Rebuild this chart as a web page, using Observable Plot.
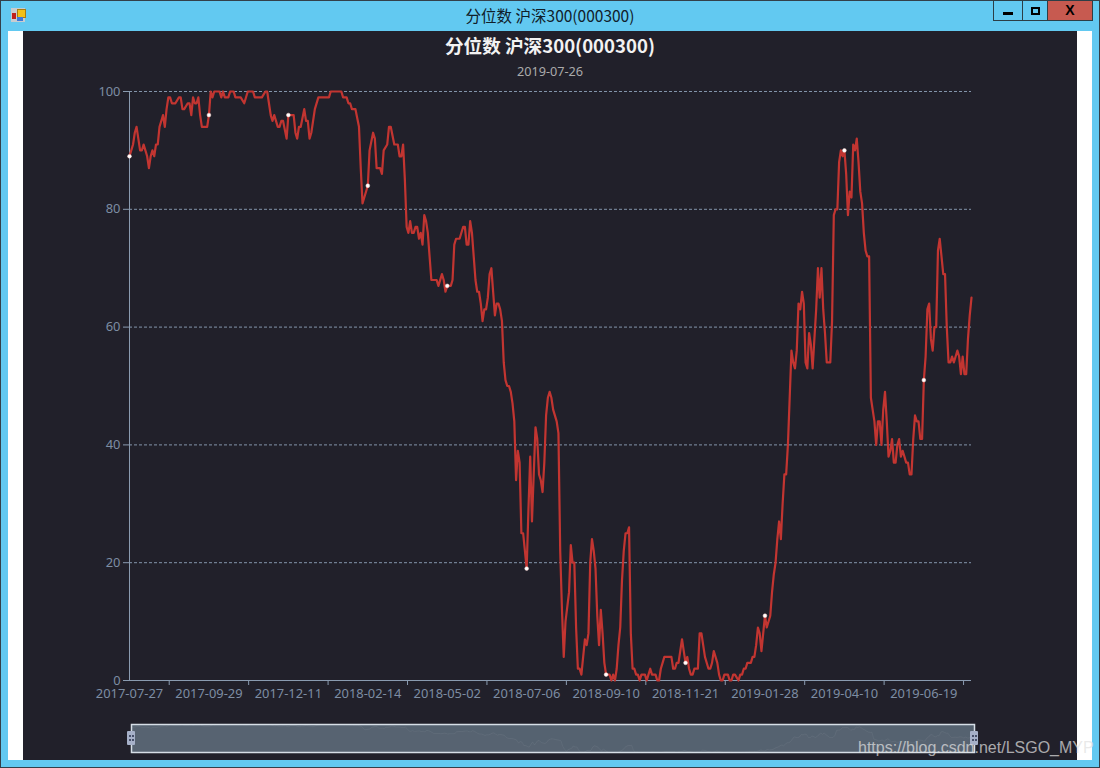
<!DOCTYPE html>
<html>
<head>
<meta charset="utf-8">
<script src="https://cdn.jsdelivr.net/npm/d3@7"></script>
<script src="https://cdn.jsdelivr.net/npm/@observablehq/plot@0.6"></script>
<style>
html,body{margin:0;padding:0;width:1100px;height:768px;overflow:hidden;background:#62c9f1;}
#win{position:absolute;left:0;top:0;width:1100px;height:768px;background:#62c9f1;box-sizing:border-box;border:1px solid #33404a;}
.abs{position:absolute;}
#wtitle{position:absolute;left:0;top:5px;width:1100px;text-align:center;font:15.5px "Noto Sans CJK SC";color:#10202a;line-height:20px;}
#white{position:absolute;left:8px;top:31px;width:1084px;height:729px;background:#fff;}
#panel{position:absolute;left:23px;top:31px;width:1054px;height:729px;background:#21202a;}
#title{position:absolute;left:23px;top:32px;width:1054px;text-align:center;font:bold 18.6px/26px "Noto Sans CJK SC";color:#f2f2f2;}
#sub{position:absolute;left:23px;top:62px;width:1054px;text-align:center;font:12.7px/18px "Noto Sans";color:#aaa;}
#chart{position:absolute;left:23px;top:31px;}
#zoom{position:absolute;left:120px;top:715px;}
.btn{position:absolute;top:0;height:21px;box-sizing:border-box;border:1px solid #2c3e46;background:#62c9f1;}
.handle{position:absolute;width:8px;height:14px;top:731px;background:#a6b0c8;border-radius:1px;}
.handle i{position:absolute;width:2px;height:2px;background:#47506a;}
#mark{position:absolute;left:858px;top:737px;font:16px/22px "Liberation Sans";color:rgba(225,225,225,.72);white-space:nowrap;}
</style>
</head>
<body>
<div id="win"></div>
<div class="abs" style="left:11px;top:8px;width:14px;height:14px;background:#c8ccd0;"></div>
<div class="abs" style="left:17px;top:9px;width:7px;height:7px;background:#f2c018;border:1px solid #a87a10;box-sizing:content-box;"></div>
<div class="abs" style="left:12px;top:13px;width:4px;height:6px;background:#c0201c;"></div>
<div class="abs" style="left:17px;top:17px;width:6px;height:4px;background:#3f78d8;"></div>
<div id="wtitle">分位数 沪深300(000300)</div>
<div class="btn" style="left:993px;width:30px;"><div class="abs" style="left:9px;top:11px;width:10px;height:3px;background:#000;"></div></div>
<div class="btn" style="left:1022px;width:26px;"><div class="abs" style="left:8px;top:6px;width:9px;height:8px;border:2px solid #000;box-sizing:border-box;"></div></div>
<div class="btn" style="left:1047px;width:46px;background:#c75a50;"><div class="abs" style="left:0;top:1px;width:44px;text-align:center;font:bold 14px/16px 'Liberation Sans';color:#000;">X</div></div>
<div id="white"></div>
<div id="panel"></div>
<div id="title"></div>
<div id="sub"></div>
<div id="chart"></div>
<div id="zoom"></div>
<div class="handle" style="left:127px;"><i style="left:2px;top:4px"></i><i style="left:5px;top:4px"></i><i style="left:2px;top:8px"></i><i style="left:5px;top:8px"></i></div>
<div class="handle" style="left:970px;"><i style="left:2px;top:4px"></i><i style="left:5px;top:4px"></i><i style="left:2px;top:8px"></i><i style="left:5px;top:8px"></i></div>
<div id="mark">https://blog.csdn.net/LSGO_MYP</div>
<script>
const chartTitle = "分位数 沪深300(000300)";
const chartDate = "2019-07-26";
const tickLabels = ["2017-07-27","2017-09-29","2017-12-11","2018-02-14","2018-05-02","2018-07-06","2018-09-10","2018-11-21","2019-01-28","2019-04-10","2019-06-19"];
const labelStep = 45;
const lastDay = 477;
const yTicks = [0,20,40,60,80,100];
// [trading-day number, quantile]
const readings2017 = [[0,89],[1,90],[2,91],[3,93],[4,94],[5,92],[6,90],[7,90],[8,91],[9,90],[10,89],[11,87],[12,89],[13,90],[14,89],[15,91],[16,91],[17,94],[18,95],[19,96],[20,94],[21,97],[22,99],[23,99],[24,98],[26,98],[28,99],[29,99],[30,97],[31,97],[33,98],[34,98],[35,96],[36,99],[37,98],[38,98],[39,99],[40,96],[41,94],[44,94],[45,96],[46,100],[47,99],[48,100],[51,100],[52,99],[53,100],[54,99],[56,99],[57,100],[59,100],[60,99],[63,99],[65,98],[67,100],[70,100],[71,99],[75,99],[77,100],[78,100],[79,98],[80,96],[81,95],[82,96],[84,94],[85,94],[86,95],[87,95],[89,92],[90,96],[93,96],[94,93],[95,92],[96,94],[97,94],[99,97],[100,95],[101,95],[102,92],[103,93],[105,97],[107,99],[113,99],[114,100],[120,100],[121,99],[123,99],[124,98],[125,98],[126,97],[128,97],[130,94],[131,87],[132,81],[133,82],[135,84],[136,90],[138,93],[139,92],[140,87],[142,87],[143,86],[144,90],[146,91],[147,94],[148,94],[150,91],[152,91],[153,89],[154,89],[155,91],[156,85],[157,77],[158,76],[159,78],[160,76],[161,76],[162,77],[163,77],[164,75],[165,76],[166,74],[167,79],[168,78],[169,76],[170,72],[171,68],[174,68],[175,67],[177,69],[178,68],[179,66],[180,67]];
const readings2018a = [[182,67],[183,68],[184,74],[185,75],[187,75],[189,77],[190,77],[191,74],[192,74],[193,78],[194,76],[195,72],[196,68],[197,66],[198,66],[199,64],[200,61],[201,63],[202,63],[203,65],[204,69],[205,70],[206,66],[207,62],[208,64],[209,64],[210,63],[211,61],[212,54],[213,51],[214,50],[215,50],[216,49],[217,47],[218,44],[219,34],[220,39],[221,37],[222,25],[223,25],[224,22],[225,19],[226,29],[227,38],[228,27],[230,43],[231,41],[232,35],[233,34],[234,32],[235,37],[236,45],[237,48],[238,49],[239,48],[240,46],[242,44],[243,42],[244,22],[245,12],[246,4],[247,10],[249,15],[250,23],[251,20],[252,20],[253,9],[254,2],[255,2],[256,1],[257,4],[258,7],[259,6],[260,8],[261,20],[262,24],[263,22],[264,19],[265,11],[266,6],[267,12],[268,8],[269,3],[270,1],[272,1],[273,0],[274,1],[275,0],[276,2],[277,6],[278,9],[279,17],[280,22],[281,25],[282,25],[283,26],[284,8],[285,2],[286,2],[287,1],[288,1],[289,0],[290,1],[292,1],[293,0],[294,1],[295,2],[296,1],[298,1],[299,0],[300,0],[301,2],[302,3],[303,4],[307,4],[308,2],[309,2],[310,3],[311,3],[312,5],[313,7],[314,5],[315,3],[316,4],[317,2],[318,1],[319,1],[320,2],[322,2],[323,8],[324,8],[325,6],[326,4],[328,2],[329,2],[330,3],[331,5],[333,3],[334,1],[335,0],[336,0],[337,1],[339,1],[340,0],[341,0],[342,1],[343,1],[345,0],[346,1],[347,1],[348,2],[349,2],[350,3],[352,3],[353,4],[354,4],[355,6],[356,9],[357,8],[358,5],[359,8],[360,11]];
const readings2019 = [[361,9],[363,11],[364,15],[365,18],[366,20],[367,24],[368,27],[369,24],[370,30],[371,35],[372,35],[373,40],[374,48],[375,56],[376,54],[377,53],[378,56],[379,64],[380,63],[381,66],[382,64],[383,54],[384,53],[385,59],[386,57],[387,53],[388,58],[389,63],[390,70],[391,65],[392,70],[393,63],[394,59],[395,54],[397,54],[398,61],[399,79],[400,80],[401,80],[402,88],[403,90],[404,89],[405,90],[406,86],[407,79],[408,83],[409,82],[410,91],[411,90],[412,92],[413,88],[414,83],[415,81],[416,76],[417,73],[418,72],[419,72],[420,48],[421,46],[422,44],[423,40],[424,44],[425,44],[426,40],[427,46],[428,49],[429,44],[430,38],[431,39],[432,41],[433,37],[434,37],[435,40],[436,41],[437,38],[438,39],[439,38],[440,37],[441,37],[442,35],[443,35],[444,41],[445,45],[446,44],[447,44],[448,41],[449,41],[450,51],[451,55],[452,63],[453,64],[454,58],[455,56],[456,60],[457,60],[458,73],[459,75],[460,72],[461,69],[462,69],[463,60],[464,54],[465,54],[466,55],[467,54],[468,55],[469,56],[470,55],[471,52],[472,55],[473,52],[474,52],[475,58],[476,62],[477,65]];

const series = [...readings2017, ...readings2018a, ...readings2019].map(([d, v]) => ({d, v}));
const labelDays = tickLabels.map((_, i) => i * labelStep);
const tickDays = tickLabels.map((_, i) => (i + 0.5) * labelStep);
const markers = series.filter(p => p.d % labelStep === 0);

document.getElementById("title").textContent = chartTitle;
document.getElementById("sub").textContent = chartDate;

const axisColor = "#8a9bb0", labelColor = "#7d8da3";
const chart = Plot.plot({
  width: 1054, height: 729,
  marginLeft: 106, marginRight: 106, marginTop: 60, marginBottom: 80,
  style: {background: "transparent", color: axisColor, fontFamily: "Noto Sans", fontSize: "12.9px"},
  x: {domain: [0, lastDay], label: null},
  y: {domain: [0, 100], label: null},
  marks: [
    Plot.gridY(yTicks, {stroke: "#8394aa", strokeOpacity: 1, strokeDasharray: "3 2", strokeWidth: 1}),
    Plot.ruleX([0], {stroke: axisColor, strokeWidth: 1}),
    Plot.ruleY([0], {stroke: axisColor, strokeWidth: 1}),
    Plot.axisY({ticks: yTicks, tickSize: 6, tickPadding: 3, color: labelColor, stroke: axisColor, label: null, anchor: "left"}),
    Plot.axisX({ticks: tickDays, tickSize: 5, text: null, stroke: axisColor, label: null, anchor: "bottom"}),
    Plot.axisX({ticks: labelDays, tickSize: 0, tickPadding: 8, color: labelColor, label: null, anchor: "bottom",
      tickFormat: d => tickLabels[d / labelStep]}),
    Plot.line(series, {x: "d", y: "v", stroke: "#c23531", strokeWidth: 2.2, curve: "linear"}),
    Plot.dot(markers, {x: "d", y: "v", r: 1.9, fill: "#fff", stroke: "#ffd6d0", strokeWidth: 0.5})
  ]
});
document.getElementById("chart").appendChild(chart);

const zoomPlot = Plot.plot({
  width: 870, height: 45,
  marginLeft: 11, marginRight: 16, marginTop: 9, marginBottom: 8,
  style: {background: "transparent"},
  x: {domain: [0, lastDay], axis: null},
  y: {domain: [0, 100], axis: null},
  marks: [
    Plot.frame({fill: "#556270", stroke: "#d6dee6", strokeWidth: 1.5}),
    Plot.areaY(series, {x: "d", y: "v", fill: "#fff", fillOpacity: 0.012}),
    Plot.line(series, {x: "d", y: "v", stroke: "#fff", strokeOpacity: 0.05, strokeWidth: 1})
  ]
});
document.getElementById("zoom").appendChild(zoomPlot);
</script>
</body>
</html>
